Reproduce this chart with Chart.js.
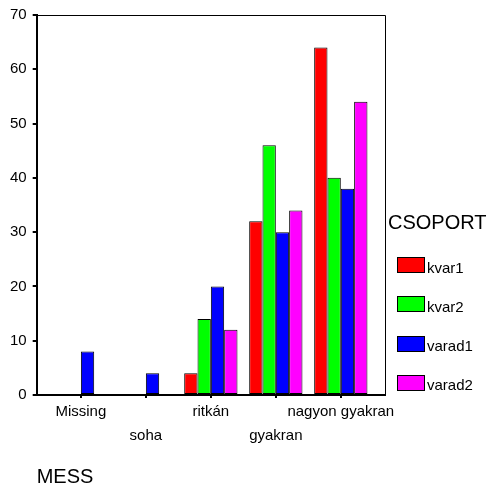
<!DOCTYPE html>
<html>
<head>
<meta charset="utf-8">
<script src="https://cdn.jsdelivr.net/npm/chart.js@4/dist/chart.umd.min.js"></script>
<style>
  html, body { margin: 0; padding: 0; background: #fff; }
  #wrap { position: relative; width: 494px; height: 485px; }
  #legend { position: absolute; left: 0; top: 0; font-family: Arial, "Liberation Sans", sans-serif; color: #000; }
  #legend .title { position: absolute; left: 388px; top: 212px; font-size: 20px; line-height: 20px; white-space: nowrap; }
  #legend .item { position: absolute; left: 397px; white-space: nowrap; }
  #legend .box { position: absolute; left: 0; top: 0; width: 28px; height: 16px; border: 1px solid #000; box-sizing: border-box; }
  #legend .label { position: absolute; left: 30px; top: 1.5px; font-size: 15px; line-height: 18px; }
</style>
</head>
<body>
<div id="wrap">
  <canvas id="barChart" width="494" height="485"></canvas>
  <div id="legend"></div>
</div>
<script>
// data
const categories = ["Missing", "soha", "ritkán", "gyakran", "nagyon gyakran"];
const kvar1 = [0, 0, 4, 32, 64];
const kvar2 = [0, 0, 14, 46, 40];
const varad1 = [8, 4, 20, 30, 38];
const varad2 = [0, 0, 12, 34, 54];
const yTicks = [0, 10, 20, 30, 40, 50, 60, 70];
const legendTitle = "CSOPORT";

const FONT = "Arial, 'Liberation Sans', sans-serif";

function series(label, values, color) {
  return {
    label: label,
    data: values.map((v, i) => ({ x: i, y: v })),
    backgroundColor: color,
    borderColor: "#000",
    borderWidth: 1,
    borderSkipped: false,
    categoryPercentage: 0.82,
    barPercentage: 1.0
  };
}

// top and right edge of the plot frame
const framePlugin = {
  id: "frame",
  afterDraw(chart) {
    const a = chart.chartArea;
    const c = chart.ctx;
    c.save();
    c.strokeStyle = "#000";
    c.lineWidth = 1;
    c.beginPath();
    c.moveTo(a.left, a.top + 0.5);
    c.lineTo(a.right + 0.5, a.top + 0.5);
    c.lineTo(a.right + 0.5, a.bottom);
    c.stroke();
    c.restore();
  }
};

// html legend built from the datasets
const htmlLegend = {
  id: "htmlLegend",
  afterUpdate(chart) {
    const el = document.getElementById("legend");
    el.innerHTML = "";
    const t = document.createElement("div");
    t.className = "title";
    t.textContent = legendTitle;
    el.appendChild(t);
    chart.data.datasets.forEach((ds, i) => {
      const item = document.createElement("div");
      item.className = "item";
      item.style.top = (257 + i * 39.3) + "px";
      const box = document.createElement("span");
      box.className = "box";
      box.style.background = ds.backgroundColor;
      const lab = document.createElement("span");
      lab.className = "label";
      lab.textContent = ds.label;
      item.appendChild(box);
      item.appendChild(lab);
      el.appendChild(item);
    });
  }
};

const ctx = document.getElementById("barChart").getContext("2d");
window.barChartInstance = new Chart(ctx, {
  type: "bar",
  data: {
    datasets: [
      series("kvar1", kvar1, "#ff0000"),
      series("kvar2", kvar2, "#00ff00"),
      series("varad1", varad1, "#0000ff"),
      series("varad2", varad2, "#ff00ff")
    ]
  },
  plugins: [framePlugin, htmlLegend],
  options: {
    responsive: false,
    animation: false,
    layout: { padding: { top: 13, right: 109, bottom: -2, left: 4 } },
    plugins: {
      tooltip: { enabled: false },
      legend: { display: false }
    },
    scales: {
      x: {
        type: "linear",
        offset: false,
        min: -0.68,
        max: 4.68,
        afterBuildTicks: scale => {
          scale.ticks = categories.map((c, i) => ({ value: i }));
        },
        ticks: {
          autoSkip: false,
          maxRotation: 0,
          color: "#000",
          font: { family: FONT, size: 15, lineHeight: 1.6 },
          padding: 2,
          callback: v => (v % 2 ? ["", categories[v]] : categories[v])
        },
        grid: { offset: false, drawOnChartArea: false, drawTicks: true, tickLength: 3, color: "#000", lineWidth: 2 },
        border: { color: "#000", width: 2 },
        title: {
          display: true,
          text: "MESS",
          align: "start",
          color: "#000",
          font: { family: FONT, size: 20, lineHeight: 1.0 },
          padding: { top: 17, bottom: 0 }
        }
      },
      y: {
        min: 0,
        max: 70,
        afterBuildTicks: scale => {
          scale.ticks = yTicks.map(v => ({ value: v }));
        },
        ticks: { color: "#000", font: { family: FONT, size: 15 }, padding: 6 },
        grid: { drawOnChartArea: false, drawTicks: true, tickLength: 4, color: "#000", lineWidth: 2 },
        border: { color: "#000", width: 2 }
      }
    }
  }
});
</script>
</body>
</html>
